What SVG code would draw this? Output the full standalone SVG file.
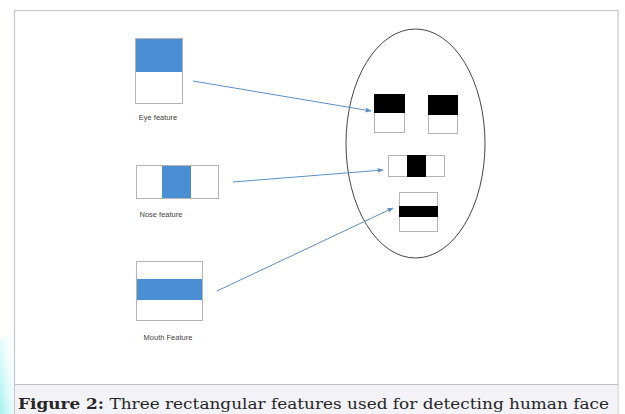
<svg xmlns="http://www.w3.org/2000/svg" width="625" height="414" viewBox="0 0 625 414">
  <style>
    .cell { fill: #ffffff; stroke: #b4b4b8; stroke-width: 1; }
    .blue { fill: #4a8fd4; stroke: none; }
    .dark { fill: #000000; stroke: none; }
    .lbl { font-family: "Liberation Sans", Arial, sans-serif; font-size: 7.5px; fill: #444444; text-anchor: middle; }
    .cap { font-family: "DejaVu Serif", "Liberation Serif", serif; font-size: 15.5px; fill: #262626; }
    .conn { stroke: #5d8fc4; stroke-width: 1; fill: none; marker-end: url(#tip); }
  </style>
  <defs>
    <marker id="tip" viewBox="0 0 10 10" refX="9" refY="5" markerWidth="6" markerHeight="6" orient="auto" markerUnits="userSpaceOnUse">
      <path d="M0,1 L10,5 L0,9 z" fill="#5d8fc4"/>
    </marker>
    <linearGradient id="edge" x1="0" y1="1" x2="1" y2="0">
      <stop offset="0" stop-color="#9ff0f0"/>
      <stop offset="1" stop-color="#ffffff" stop-opacity="0"/>
    </linearGradient>
  </defs>

  <rect x="0" y="0" width="625" height="414" fill="#ffffff"/>
  <polygon points="0,414 0,340 14,330 14,414" fill="url(#edge)"/>

  <!-- frame and caption band -->
  <rect x="14.5" y="10.5" width="603.5" height="410" fill="#ffffff" stroke="#c6c6cc" stroke-width="1.2"/>
  <rect x="15" y="385" width="602.5" height="29" fill="#f3f3f7"/>
  <line x1="14.5" y1="384.5" x2="618" y2="384.5" stroke="#bdbdc5" stroke-width="1.2"/>
  <text class="cap" x="18" y="409" textLength="591" lengthAdjust="spacingAndGlyphs"><tspan font-weight="bold">Figure 2:</tspan> Three rectangular features used for detecting human face</text>

  <!-- feature templates -->
  <g id="eye-feature">
    <rect class="cell" x="135.5" y="38.5" width="47" height="65"/>
    <rect class="blue" x="136" y="39" width="46" height="33"/>
    <text class="lbl" x="158" y="120">Eye feature</text>
  </g>
  <g id="nose-feature">
    <rect class="cell" x="136.5" y="165.5" width="82" height="33"/>
    <rect class="blue" x="162" y="166" width="29" height="32"/>
    <text class="lbl" x="161" y="217">Nose feature</text>
  </g>
  <g id="mouth-feature">
    <rect class="cell" x="136.5" y="261.5" width="66" height="59"/>
    <rect class="blue" x="137" y="279" width="65" height="21"/>
    <text class="lbl" x="168" y="340">Mouth Feature</text>
  </g>

  <!-- face outline with matched features -->
  <g id="face">
    <ellipse cx="415.5" cy="143.5" rx="69.5" ry="114.5" fill="none" stroke="#444444" stroke-width="1"/>
    <g id="face-eye-left">
      <rect class="cell" x="374.5" y="94.5" width="30" height="38"/>
      <rect class="dark" x="374" y="94" width="31" height="19"/>
    </g>
    <g id="face-eye-right">
      <rect class="cell" x="428.5" y="95.5" width="29" height="38"/>
      <rect class="dark" x="428" y="95" width="30" height="20"/>
    </g>
    <g id="face-nose">
      <rect class="cell" x="388.5" y="155.5" width="56" height="21"/>
      <rect class="dark" x="407" y="155" width="19" height="22"/>
    </g>
    <g id="face-mouth">
      <rect class="cell" x="399.5" y="192.5" width="38" height="39"/>
      <rect class="dark" x="399" y="206" width="39" height="11"/>
    </g>
  </g>

  <!-- connectors -->
  <g id="connectors">
    <line class="conn" x1="193" y1="81" x2="371" y2="111"/>
    <line class="conn" x1="233" y1="182" x2="383" y2="170"/>
    <line class="conn" x1="217" y1="291" x2="393" y2="208"/>
  </g>
</svg>
